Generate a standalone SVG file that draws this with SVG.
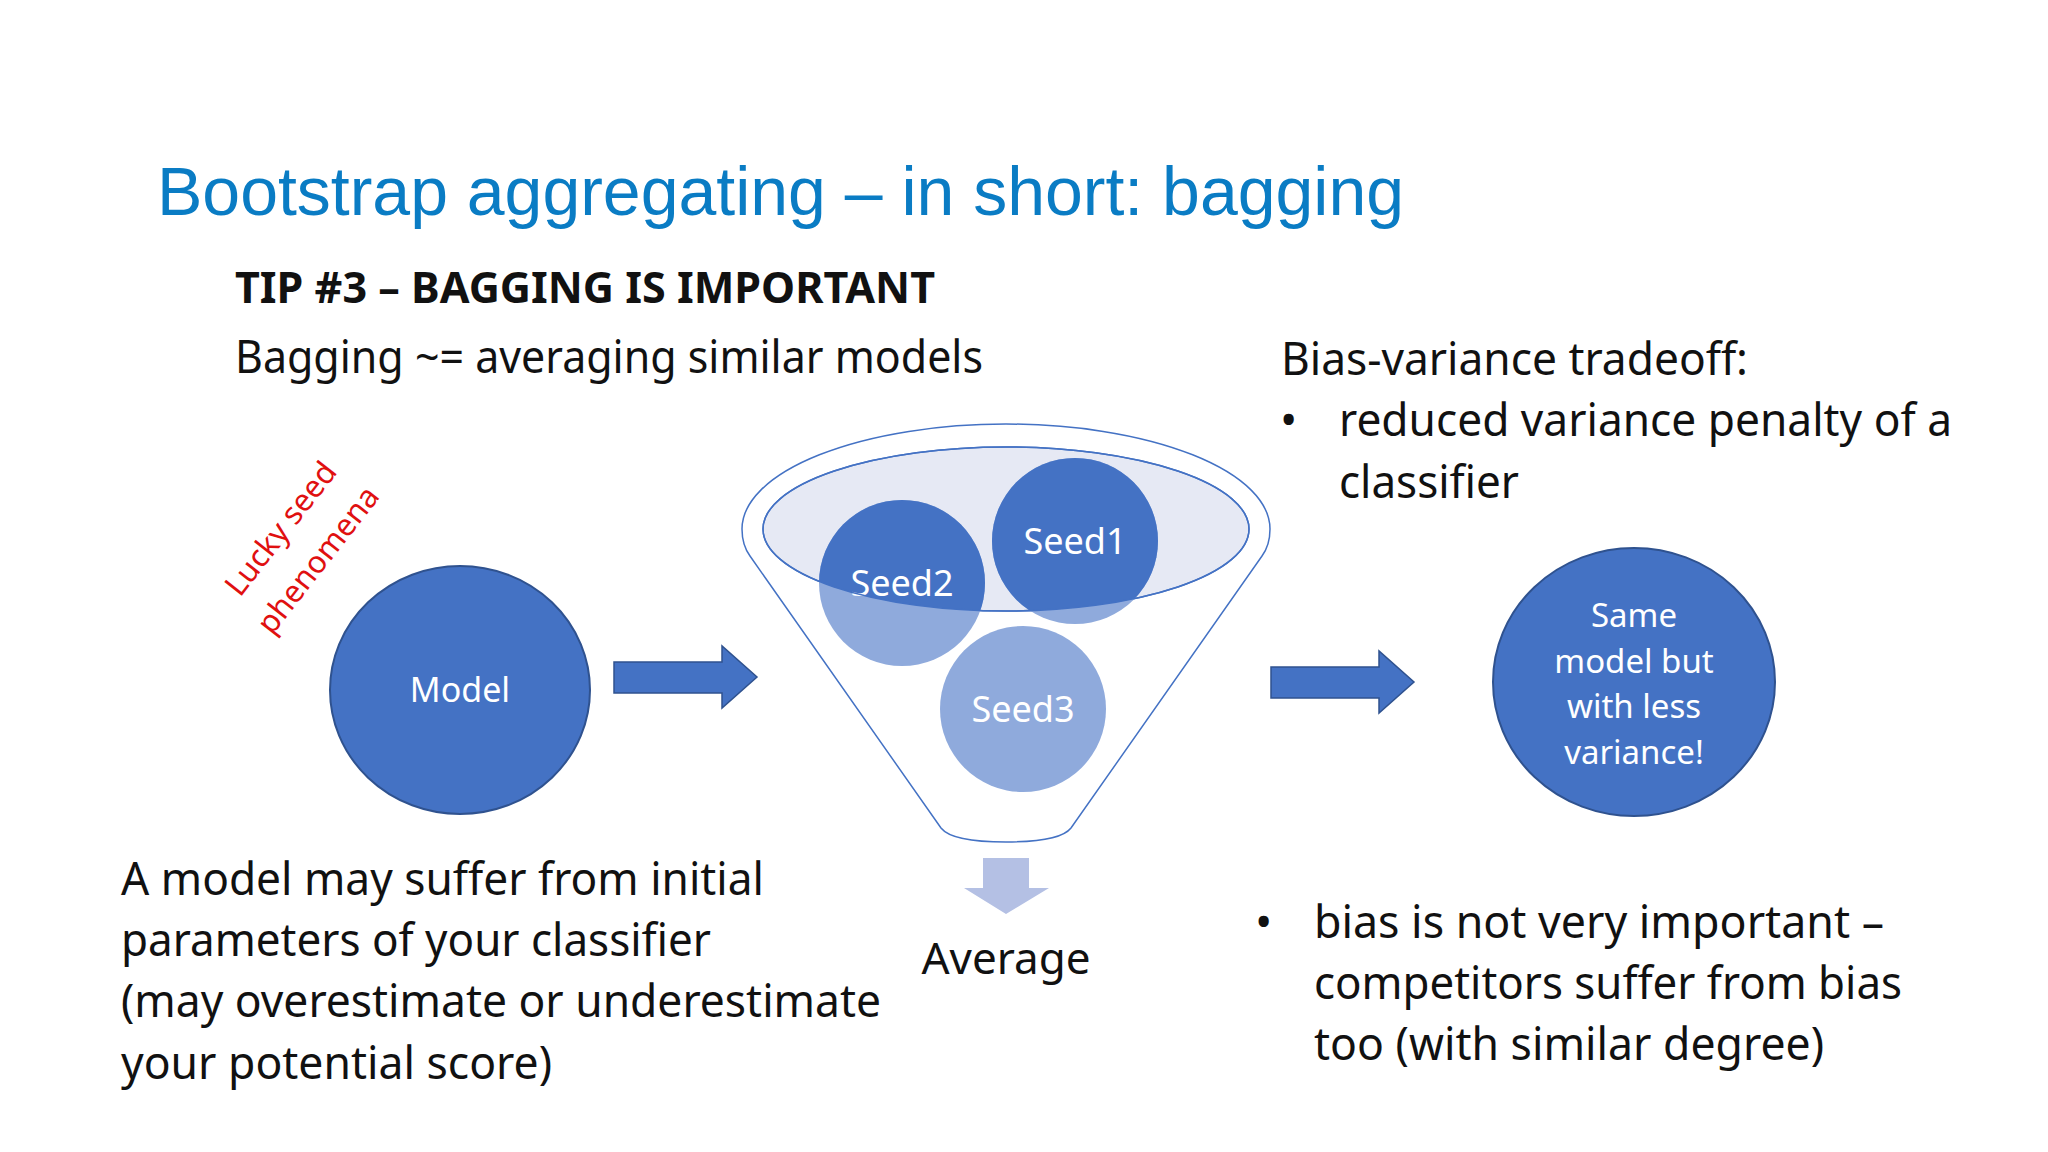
<svg xmlns="http://www.w3.org/2000/svg" width="2048" height="1152" viewBox="0 0 2048 1152">
<defs>
<style>
.t{font-family:"Noto Sans","Open Sans",sans-serif;fill:#111}
.w{font-family:"Noto Sans","Open Sans",sans-serif;fill:#fff;text-anchor:middle}
.dk{fill:#4472C4;stroke:#2F528F;stroke-width:2}
.arr{fill:#4472C4;stroke:#2F528F;stroke-width:1.5}
</style>
<clipPath id="inner"><ellipse cx="1006" cy="529" rx="243" ry="82"/></clipPath>
</defs>
<rect width="2048" height="1152" fill="#fff"/>
<text x="157" y="215" font-family="Liberation Sans, Arial, sans-serif" font-size="68" fill="#0A7CC4" textLength="1247" lengthAdjust="spacingAndGlyphs">Bootstrap aggregating – in short: bagging</text>
<text class="t" x="235" y="303" font-size="43" font-weight="bold" textLength="700" lengthAdjust="spacingAndGlyphs">TIP #3 – BAGGING IS IMPORTANT</text>
<text class="t" x="235" y="373" font-size="46" textLength="748" lengthAdjust="spacingAndGlyphs">Bagging ~= averaging similar models</text>
<text class="t" x="1281" y="375" font-size="46" textLength="467" lengthAdjust="spacingAndGlyphs">Bias-variance tradeoff:</text>
<text class="t" x="1280" y="436" font-size="46">•</text>
<text class="t" x="1339" y="436" font-size="46" textLength="613" lengthAdjust="spacingAndGlyphs">reduced variance penalty of a</text>
<text class="t" x="1339" y="498" font-size="46" textLength="180" lengthAdjust="spacingAndGlyphs">classifier</text>
<g font-family="Noto Sans, sans-serif" font-size="31" fill="#E01010">
<text transform="translate(240,598) rotate(-52)">Lucky seed</text>
<text transform="translate(272,636) rotate(-52)">phenomena</text>
</g>
<g id="model"><ellipse class="dk" cx="460" cy="690" rx="130" ry="124"/><text class="w" x="460" y="702" font-size="34">Model</text></g>
<g id="funnel">
<path d="M742,529 A264,105 0 0 1 1270,529 Q1270,545 1262,556 L1071,828 Q1060,842 1006,842 Q952,842 941,828 L750,556 Q742,545 742,529 Z" fill="#fff" stroke="#4472C4" stroke-width="1.5"/>
<ellipse cx="1006" cy="529" rx="243" ry="82" fill="#E6E9F4" stroke="#4472C4" stroke-width="1.5"/>
</g>
<g id="seed3"><circle cx="1023" cy="709" r="83" fill="#8FAADC"/><text class="w" x="1023" y="722" font-size="36">Seed3</text></g>
<g id="seed2"><circle cx="902" cy="583" r="83" fill="#8FAADC"/><circle cx="902" cy="583" r="83" fill="#4472C4" clip-path="url(#inner)"/><text class="w" x="902" y="596" font-size="36">Seed2</text></g>
<g id="seed1"><circle cx="1075" cy="541" r="83" fill="#8FAADC"/><circle cx="1075" cy="541" r="83" fill="#4472C4" clip-path="url(#inner)"/><text class="w" x="1075" y="554" font-size="36">Seed1</text></g>
<ellipse cx="1006" cy="529" rx="243" ry="82" fill="none" stroke="#4472C4" stroke-width="1.5"/>
<g id="connectors">
<path class="arr" d="M614,662 L722,662 L722,646 L757,677 L722,708 L722,693 L614,693 Z"/>
<path class="arr" d="M1271,667 L1379,667 L1379,651 L1414,682 L1379,713 L1379,698 L1271,698 Z"/>
<path d="M983,858 L1029,858 L1029,888 L1049,888 L1006,914 L964,888 L983,888 Z" fill="#B4C0E4"/>
</g>
<text class="t" x="1006" y="974" font-size="44" text-anchor="middle">Average</text>
<g id="result"><ellipse class="dk" cx="1634" cy="682" rx="141" ry="134"/>
<text class="w" x="1634" y="627" font-size="33">Same</text>
<text class="w" x="1634" y="673" font-size="33">model but</text>
<text class="w" x="1634" y="718" font-size="33">with less</text>
<text class="w" x="1634" y="764" font-size="33">variance!</text></g>
<g font-size="46">
<text class="t" x="121" y="895" textLength="643" lengthAdjust="spacingAndGlyphs">A model may suffer from initial</text>
<text class="t" x="121" y="956" textLength="590" lengthAdjust="spacingAndGlyphs">parameters of your classifier</text>
<text class="t" x="121" y="1017" textLength="760" lengthAdjust="spacingAndGlyphs">(may overestimate or underestimate</text>
<text class="t" x="121" y="1079" textLength="431" lengthAdjust="spacingAndGlyphs">your potential score)</text>
<text class="t" x="1255" y="938">•</text>
<text class="t" x="1314" y="938" textLength="570" lengthAdjust="spacingAndGlyphs">bias is not very important –</text>
<text class="t" x="1314" y="999" textLength="588" lengthAdjust="spacingAndGlyphs">competitors suffer from bias</text>
<text class="t" x="1314" y="1060" textLength="510" lengthAdjust="spacingAndGlyphs">too (with similar degree)</text>
</g>
</svg>
